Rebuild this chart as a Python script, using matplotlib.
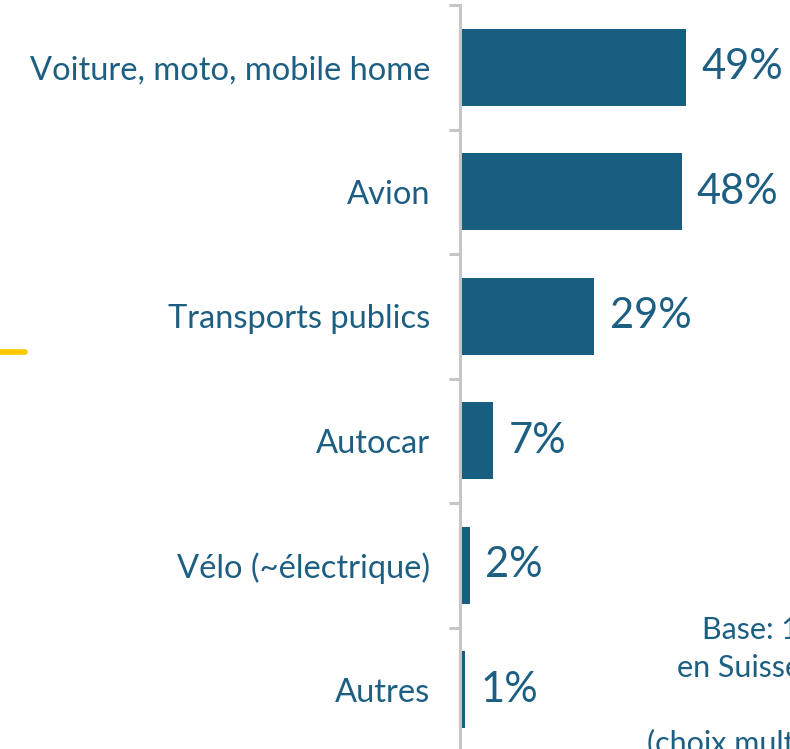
import matplotlib
matplotlib.use("Agg")
import matplotlib.pyplot as plt
from matplotlib.lines import Line2D

categories = ["Voiture, moto, mobile home", "Avion", "Transports publics",
              "Autocar", "Vélo (~électrique)", "Autres"]
values = [49, 48, 29, 7, 2, 1]
value_labels = ["49%", "48%", "29%", "7%", "2%", "1%"]
note_lines = ["Base: 1'010 personnes", "en Suisse qui voyagent", "(choix multiples)"]

BLUE = "#175e80"
TEXT = "#1d5f82"
GREY = "#c6c6c6"
YELLOW = "#ffc800"

W, H = 790, 749
plt.rcParams['font.family'] = ['Lato', 'DejaVu Sans']
fig = plt.figure(figsize=(W / 100, H / 100), dpi=100)

ax_left = 459.5 / W
ax_top = 1 - 5 / H
ax_bottom = (H - 752) / H
ax = fig.add_axes([ax_left, ax_bottom, 1 - ax_left, ax_top - ax_bottom])
ax.set_xlim(0, (W - 459.5) / 4.6)
ax.set_ylim(len(categories) - 0.5, -0.5)

ypos = list(range(len(categories)))
ax.barh(ypos, values, height=0.62, color=BLUE, left=0.3)

for y, v, lab in zip(ypos, values, value_labels):
    ax.annotate(lab, xy=(v + 0.3, y), xytext=(11, 0), textcoords="offset points",
                va="center", ha="left", fontsize=30, color=TEXT)

for s in ["top", "right", "bottom"]:
    ax.spines[s].set_visible(False)
ax.spines["left"].set_color(GREY)
ax.spines["left"].set_linewidth(2.2)
ax.set_xticks([])

ax.set_yticks([i - 0.5 for i in range(len(categories) + 1)])
ax.set_yticklabels([])
ax.tick_params(axis="y", which="major", length=8, width=2.2, color=GREY)
ax.set_yticks(ypos, minor=True)
ax.set_yticklabels(categories, minor=True, fontsize=23.5, color=TEXT)
ax.tick_params(axis="y", which="minor", length=0, pad=21)

# note text (clipped by figure edge, as in the reference)
fig.text(702 / W, 1 - 639 / H, note_lines[0], fontsize=22, color=TEXT, ha="left", va="baseline")
fig.text(677 / W, 1 - 677 / H, note_lines[1], fontsize=22, color=TEXT, ha="left", va="baseline")
fig.text(647 / W, 1 - 753 / H, note_lines[2], fontsize=22, color=TEXT, ha="left", va="baseline")

# yellow decorative stroke
fig.add_artist(Line2D([-5 / W, 25 / W], [1 - 352 / H, 1 - 352 / H], transform=fig.transFigure,
                      color=YELLOW, lw=4, solid_capstyle="round"))

fig.savefig("out.png", dpi=100)
